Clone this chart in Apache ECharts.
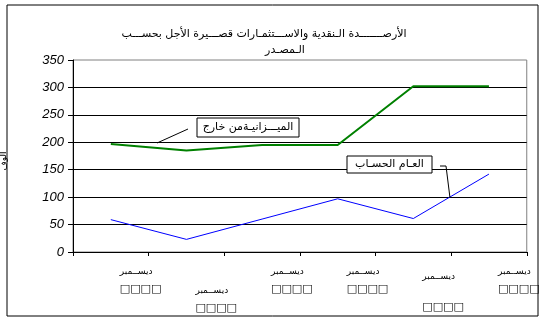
<!DOCTYPE html>
<html>
<head>
<meta charset="utf-8">
<script src="https://cdn.jsdelivr.net/npm/echarts@6/dist/echarts.min.js"></script>
<style>
  html, body { margin: 0; padding: 0; background: #fff; }
  #chart { width: 542px; height: 324px; }
</style>
</head>
<body>
<div id="chart"></div>
<script>
// values, in thousands
const months = ["ديســمبر", "ديســمبر", "ديســمبر", "ديســمبر", "ديســمبر", "ديســمبر"];
const years = ["□□□□", "□□□□", "□□□□", "□□□□", "□□□□", "□□□□"];
const offBudget = [197, 185, 195, 195, 302, 302];   // green
const generalAccount = [59, 23, 60, 97, 61, 142];   // blue
const yTicks = { min: 0, max: 350, interval: 50 };

const titleLine1 = "الأرصـــــــدة الـنقدية والاســـتثمـارات قصـــيرة الأجل بحســـب";
const titleLine2 = "الـمصـدر";

// labels drop down on the 2nd and 5th category, like the original
function xLabel(value, idx) {
  const year = years[idx];
  if (idx === 1) return "{low|" + value + "}\n{yr|" + year + "}";
  if (idx === 4) return "{mid|" + value + "}\n{yrLow|" + year + "}";
  return "{m|" + value + "}\n{yr|" + year + "}";
}

const monthStyle = { fontSize: 9, color: "#000", padding: [0, 0, 0, 9], verticalAlign: "bottom" };
const yearStyle = { fontSize: 11, fontStyle: "italic", color: "#000", padding: [0, 0, 0, 9],
                    verticalAlign: "bottom", fontFamily: "DejaVu Sans" };

const chart = echarts.init(document.getElementById("chart"));
chart.setOption({
  animation: false,
  backgroundColor: "#fff",
  textStyle: { fontFamily: "DejaVu Sans" },
  title: [
    { text: titleLine1, left: 259, top: 24, textAlign: "center",
      textStyle: { fontSize: 11, fontWeight: "normal", color: "#000", fontFamily: "DejaVu Sans" } },
    { text: titleLine2, left: 280, top: 40, textAlign: "center",
      textStyle: { fontSize: 11, fontWeight: "normal", color: "#000", fontFamily: "DejaVu Sans" } }
  ],
  grid: { left: 73, right: 9, top: 60, bottom: 72, show: true,
          borderColor: "#808080", borderWidth: 1, backgroundColor: "transparent" },
  xAxis: {
    type: "category",
    data: months,
    boundaryGap: true,
    axisLine: { lineStyle: { color: "#000", width: 1 } },
    axisTick: { show: true, length: 4, lineStyle: { color: "#000" } },
    axisLabel: {
      interval: 0, align: "left", margin: 10, formatter: xLabel,
      rich: {
        m: Object.assign({}, monthStyle, { lineHeight: 14 }),
        low: Object.assign({}, monthStyle, { lineHeight: 33 }),
        mid: Object.assign({}, monthStyle, { lineHeight: 19 }),
        yr: Object.assign({}, yearStyle, { lineHeight: 19 }),
        yrLow: Object.assign({}, yearStyle, { lineHeight: 32 })
      }
    }
  },
  yAxis: {
    type: "value",
    min: yTicks.min, max: yTicks.max, interval: yTicks.interval,
    axisLine: { show: true, lineStyle: { color: "#000", width: 1 } },
    axisTick: { show: true, length: 5, lineStyle: { color: "#000" } },
    axisLabel: { margin: 9, fontSize: 13, fontStyle: "italic", color: "#000",
                 fontFamily: "Liberation Sans" },
    splitLine: { show: true, showMaxLine: false, lineStyle: { color: "#000", width: 1 } }
  },
  series: [
    { name: "الميزانية من خارج", type: "line", data: offBudget, symbol: "none",
      lineStyle: { color: "#008000", width: 2 }, z: 3 },
    { name: "العام الحساب", type: "line", data: generalAccount, symbol: "none",
      lineStyle: { color: "#0000ff", width: 1 }, z: 3 }
  ],
  graphic: [
    // outer frame
    { type: "rect", shape: { x: 7, y: 5, width: 531, height: 311 },
      style: { fill: "none", stroke: "#000", lineWidth: 1 }, z: 0 },
    // y axis name
    { type: "text", x: 4, y: 161, rotation: Math.PI / 2,
      style: { text: "ألوف", fontSize: 9, fill: "#000", align: "center", verticalAlign: "middle",
               fontFamily: "DejaVu Sans" } },
    // callout: off-budget
    { type: "line", shape: { x1: 157, y1: 143, x2: 188, y2: 129 },
      style: { stroke: "#000", lineWidth: 1 }, z: 10 },
    { type: "rect", shape: { x: 197, y: 118, width: 102, height: 19 },
      style: { fill: "#fff", stroke: "#000", lineWidth: 1 }, z: 10 },
    { type: "text", x: 248, y: 127.5, z: 11,
      style: { text: "الميـــزانيـةمن خارج", fontSize: 11, fill: "#000", align: "center",
               verticalAlign: "middle", fontFamily: "DejaVu Sans" } },
    // callout: general account
    { type: "polyline", shape: { points: [[440, 166], [446, 166], [450, 198]] },
      style: { stroke: "#000", lineWidth: 1, fill: "none" }, z: 10 },
    { type: "rect", shape: { x: 347, y: 156, width: 85, height: 17 },
      style: { fill: "#fff", stroke: "#000", lineWidth: 1 }, z: 10 },
    { type: "text", x: 389.5, y: 164.5, z: 11,
      style: { text: "العـام الحسـاب", fontSize: 11, fill: "#000", align: "center",
               verticalAlign: "middle", fontFamily: "DejaVu Sans" } }
  ]
});
</script>
</body>
</html>
